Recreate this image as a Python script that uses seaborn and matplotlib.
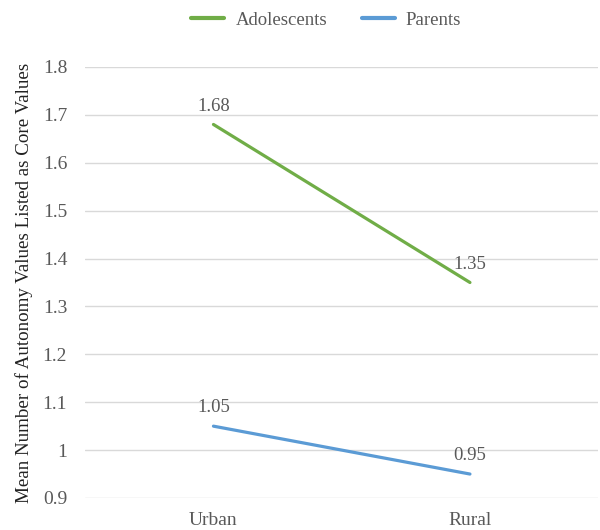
import matplotlib
matplotlib.use("Agg")
import matplotlib.pyplot as plt
from matplotlib.lines import Line2D
import seaborn as sns
import pandas as pd

# Chart data
locations = ["Urban", "Rural"]
adolescents = [1.68, 1.35]
parents = [1.05, 0.95]
y_ticks = [0.9, 1.0, 1.1, 1.2, 1.3, 1.4, 1.5, 1.6, 1.7, 1.8]
y_tick_labels = ["0.9", "1", "1.1", "1.2", "1.3", "1.4", "1.5", "1.6", "1.7", "1.8"]

df = pd.DataFrame({
    "Location": locations * 2,
    "x": list(range(len(locations))) * 2,
    "Value": adolescents + parents,
    "Group": ["Adolescents"] * len(locations) + ["Parents"] * len(locations),
})

sns.set_theme(style="white")
plt.rcParams["font.family"] = ["Liberation Serif", "DejaVu Serif"]

text_color = "#595959"
palette = {"Adolescents": "#70AD47", "Parents": "#5B9BD5"}

fig = plt.figure(figsize=(6.0, 5.3), dpi=100)
ax = fig.add_axes([0.142, 0.0604, 0.855, 0.8132])

sns.lineplot(data=df, x="x", y="Value", hue="Group", palette=palette,
             linewidth=2.3, ax=ax, legend=False)

# Value labels above each point
for _, row in df.iterrows():
    ax.annotate(f"{row['Value']:.2f}", (row["x"], row["Value"]),
                xytext=(0, 7), textcoords="offset points",
                ha="center", va="bottom", fontsize=13.5, color=text_color)

ax.set_xlim(-0.5, len(locations) - 0.5)
ax.set_ylim(0.9, 1.8)
ax.set_xticks(range(len(locations)))
ax.set_xticklabels(locations, fontsize=14, color=text_color)
ax.set_yticks(y_ticks)
ax.set_yticklabels(y_tick_labels, fontsize=14, color=text_color)
ax.tick_params(axis="x", length=0, pad=10)
ax.tick_params(axis="y", length=0, pad=13)
ax.grid(axis="y", color="#D9D9D9", linewidth=1)
ax.set_axisbelow(True)
for s in ax.spines.values():
    s.set_visible(False)

ax.set_xlabel("")
ax.set_ylabel("Mean Number of Autonomy Values Listed as Core Values",
              fontsize=13.7, color="#222222", labelpad=7)

# Legend along the top
handles = [Line2D([0], [0], color=palette[g], linewidth=3) for g in ["Adolescents", "Parents"]]
fig.legend(handles, ["Adolescents", "Parents"], loc="center", bbox_to_anchor=(0.544, 0.962),
           ncol=2, frameon=False, fontsize=13.5, labelcolor=text_color,
           handlelength=1.75, columnspacing=1.85, handletextpad=0.6)

fig.savefig("out.png", dpi=100)
